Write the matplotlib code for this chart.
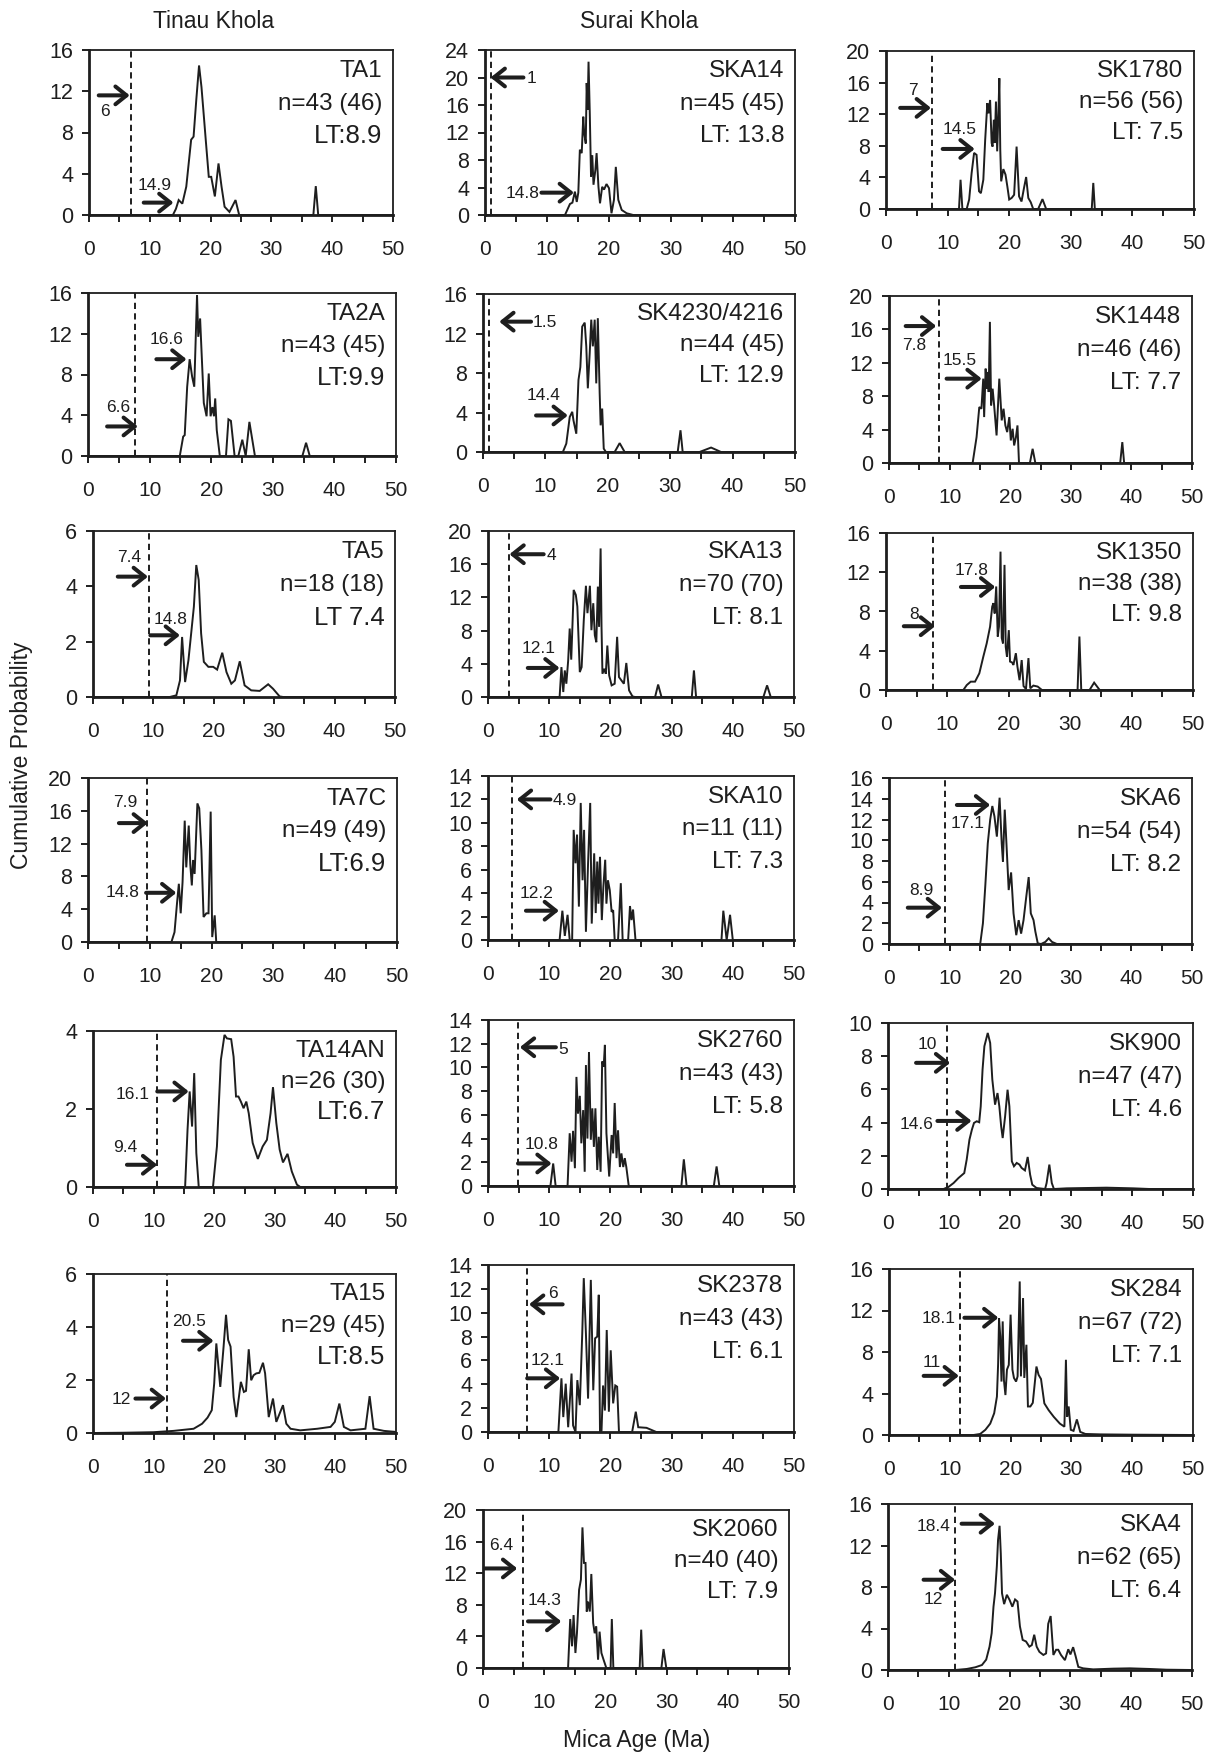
import matplotlib
matplotlib.use("Agg")
import matplotlib.pyplot as plt
from matplotlib.ticker import MultipleLocator, FuncFormatter

plt.rcParams['font.family'] = ['Liberation Sans', 'DejaVu Sans']

INK = '#1e1e1e'
W, H = 1217, 1753

# ---- probability curves: age (Ma) vs probability ----
ta1_x = [0, 13.8, 14.3, 14.75, 15.35, 16.0, 16.8, 17.2, 17.65, 18.1, 18.5, 18.9, 19.2, 19.7, 20.1, 20.7,
         21.3, 21.8, 22.3, 23.1, 24.1, 24.7, 36.9, 37.3, 37.7, 50]
ta1_y = [0, 0, 0.6, 1.45, 1.1, 2.75, 7.3, 7.6, 11.2, 14.5, 12.4, 9.5, 7.3, 3.7, 3.7, 1.8,
         5.0, 2.75, 0.8, 0.3, 1.45, 0, 0, 2.8, 0, 0]

ta2a_x = [0, 14.9, 15.45, 15.7, 16.1, 16.5, 16.9, 17.25, 17.7, 17.9, 18.2, 18.4, 18.8, 19.25, 19.6, 19.9,
          20.2, 20.45, 20.65, 20.9, 21.4, 22.4, 22.8, 23.2, 23.8, 24.4, 25.05, 25.6, 26.2, 27.1, 34.8,
          35.4, 36.0, 50]
ta2a_y = [0, 0, 1.9, 2.05, 6.8, 9.5, 7.8, 6.8, 15.8, 11.7, 13.5, 10.7, 5.2, 3.9, 8.1, 3.9,
          4.8, 3.9, 5.65, 2.55, 0, 0, 3.6, 3.45, 0, 0, 1.6, 0, 3.35, 0, 0,
          1.3, 0, 0]

ta5_x = [0, 12.7, 13.8, 14.4, 14.75, 15.25, 15.8, 16.3, 16.7, 17.1, 17.5, 17.9, 18.35, 19.1, 19.9, 20.55,
         21.4, 22.1, 22.9, 23.5, 24.3, 25.1, 26.2, 27.6, 29.0, 29.8, 30.9, 31.5, 50]
ta5_y = [0, 0, 0.06, 0.6, 2.17, 0.54, 1.33, 2.4, 3.26, 4.77, 4.23, 2.3, 1.27, 1.09, 1.09, 0.99,
         1.6, 0.9, 0.48, 0.6, 1.29, 0.42, 0.24, 0.22, 0.46, 0.3, 0.02, 0, 0]

ta7c_x = [0, 13.5, 14.0, 14.4, 14.7, 15.0, 15.3, 15.65, 15.9, 16.3, 16.55, 16.8, 17.0, 17.25, 17.7, 18.0,
          18.35, 18.7, 19.15, 19.5, 19.85, 20.1, 20.5, 20.75, 50]
ta7c_y = [0, 0, 1.2, 4.7, 7.1, 3.5, 7.3, 14.8, 9.1, 14.2, 9.5, 6.9, 10.0, 8.3, 16.9, 16.3,
          11.2, 3.05, 3.5, 3.5, 15.9, 0.6, 3.25, 0, 0]

ta14an_x = [0, 15.2, 15.6, 15.95, 16.35, 16.7, 17.05, 17.45, 19.8, 20.45, 21.1, 21.7, 22.1, 22.8, 23.2,
            23.6, 24.0, 24.4, 24.85, 25.3, 25.7, 26.35, 27.2, 28.0, 28.7, 29.3, 29.7, 30.25, 30.8,
            31.35, 32.1, 32.8, 33.65, 34.2, 50]
ta14an_y = [0, 0, 1.47, 2.45, 1.55, 2.92, 0.87, 0, 0, 1.04, 3.26, 3.9, 3.81, 3.79, 3.34,
            2.32, 2.32, 2.19, 2.02, 2.19, 1.89, 1.13, 0.72, 1.04, 1.21, 1.89, 2.56, 1.64, 0.96,
            0.63, 0.85, 0.4, 0.06, 0, 0]

ta15_x = [0, 5, 10, 13.3, 16.6, 18.0, 18.9, 19.6, 20.0, 20.35, 21.0, 21.55, 21.95, 22.3, 22.7, 23.2,
          23.65, 24.4, 24.9, 25.25, 25.7, 26.1, 26.5, 26.95, 27.45, 28.05, 28.4, 29.0, 29.7, 30.25,
          31.35, 31.9, 32.6, 34.2, 37.0, 39.2, 39.9, 40.65, 41.4, 42.5, 44.95, 45.65, 46.3, 48.0, 50]
ta15_y = [0, 0.01, 0.03, 0.08, 0.16, 0.35, 0.58, 0.86, 1.87, 3.38, 1.74, 3.26, 4.46, 3.51, 3.26, 1.36,
          0.6, 1.93, 1.55, 1.59, 3.16, 1.99, 2.18, 2.25, 2.27, 2.65, 2.25, 0.6, 1.3, 0.42,
          1.05, 0.35, 0.16, 0.1, 0.16, 0.23, 0.42, 1.11, 0.23, 0.1, 0.16, 1.39, 0.16, 0.08, 0.04]

ska14_x = [0, 12.9, 13.7, 14.1, 14.5, 14.8, 15.05, 15.3, 15.6, 15.85, 16.0, 16.25, 16.4, 16.55, 16.7,
           16.9, 17.1, 17.3, 17.5, 17.8, 18.0, 18.3, 18.55, 18.9, 19.2, 19.6, 20.0, 20.4, 20.8, 21.1,
           21.5, 22.05, 22.85, 23.9, 50]
ska14_y = [0, 0, 1.6, 1.8, 3.4, 1.9, 3.25, 9.5, 9.0, 14.3, 11.9, 10.4, 19.2, 15.3, 22.3,
           14.8, 5.6, 8.7, 4.4, 6.55, 9.0, 4.1, 1.7, 4.1, 3.7, 4.5, 3.9, 0.25, 2.2, 7.0,
           2.2, 0.73, 0.25, 0, 0]

sk4230_x = [0, 12.8, 13.35, 13.9, 14.3, 14.5, 14.95, 15.3, 15.6, 15.9, 16.3, 16.55, 16.8, 17.1, 17.35,
            17.6, 17.9, 18.15, 18.4, 18.7, 18.85, 19.1, 19.35, 19.7, 21.1, 21.9, 22.7, 31.2, 31.65,
            32.0, 34.7, 36.55, 38.15, 50]
sk4230_y = [0, 0, 0.85, 3.55, 4.07, 3.2, 1.85, 7.3, 8.6, 12.7, 13.1, 10.7, 6.45, 10.0, 13.4,
            10.7, 13.4, 6.95, 13.55, 5.9, 2.7, 4.4, 0.34, 0, 0, 0.9, 0, 0, 2.2,
            0, 0, 0.45, 0, 0]

ska13_x = [0, 11.7, 12.0, 12.3, 12.55, 12.8, 13.1, 13.35, 13.6, 13.8, 14.0, 14.35, 14.6, 15.0, 15.3,
           15.65, 16.0, 16.25, 16.65, 16.9, 17.2, 17.45, 17.7, 17.95, 18.15, 18.4, 18.55, 18.7, 19.0,
           19.25, 19.5, 19.8, 20.2, 20.7, 21.1, 21.4, 21.8, 22.2, 22.6, 23.05, 23.6, 24.0, 27.3, 27.8,
           28.35, 33.3, 33.65, 34.0, 45.0, 45.6, 46.2, 50]
ska13_y = [0, 0, 3.6, 0.6, 3.2, 1.6, 4.4, 8.25, 4.5, 8.65, 12.9, 12.3, 10.9, 3.0, 3.6,
           9.25, 13.4, 10.1, 13.4, 8.05, 11.3, 7.45, 6.6, 13.3, 8.45, 17.9, 8.45, 2.8, 3.4,
           2.8, 6.2, 2.6, 1.4, 1.6, 7.25, 2.4, 2.0, 1.6, 4.1, 0.8, 0.08, 0, 0, 1.5,
           0, 0, 3.2, 0, 0, 1.4, 0, 0]

ska10_x = [0, 11.7, 12.15, 12.55, 13.0, 13.35, 13.75, 14.0, 14.3, 14.55, 14.85, 15.15, 15.45, 15.7, 16.0,
           16.35, 16.7, 16.95, 17.35, 17.6, 17.85, 18.05, 18.3, 18.6, 18.85, 19.15, 19.35, 19.6, 19.9,
           20.2, 20.45, 20.7, 21.25, 21.7, 22.0, 22.9, 23.2, 23.45, 23.7, 24.1, 38.15, 38.45, 39.0,
           39.55, 40.0, 50]
ska10_y = [0, 0, 2.5, 0.35, 2.15, 0, 0, 9.4, 6.55, 9.0, 2.85, 11.7, 5.1, 9.4, 0.7,
           6.55, 11.7, 1.4, 7.4, 2.3, 6.7, 3.1, 7.1, 1.7, 4.55, 6.85, 3.1, 5.1, 4.25,
           2.4, 2.55, 0, 0, 4.85, 0, 0, 2.9, 1.7, 2.6, 0, 0, 2.5, 0,
           2.15, 0, 0]

sk2760_x = [0, 10.2, 10.65, 11.05, 13.0, 13.35, 13.65, 13.9, 14.2, 14.45, 14.7, 15.0, 15.25, 15.55, 15.8,
            16.0, 16.25, 16.5, 16.8, 17.05, 17.3, 17.55, 17.85, 18.1, 18.4, 18.65, 18.9, 19.1, 19.35,
            19.8, 20.2, 20.45, 20.7, 21.0, 21.25, 21.55, 21.8, 22.1, 22.35, 22.6, 23.0, 31.6, 32.0,
            32.45, 36.9, 37.35, 37.8, 50]
sk2760_y = [0, 0, 1.9, 0, 0, 4.45, 2.05, 4.65, 1.5, 9.2, 6.1, 7.6, 3.6, 6.4, 1.2,
            10.2, 4.0, 11.3, 3.9, 6.55, 3.3, 6.55, 1.35, 4.15, 1.2, 10.5, 10.05, 11.9, 4.45,
            0.8, 4.3, 2.75, 7.0, 2.35, 4.7, 1.6, 2.75, 1.6, 2.35, 1.6, 0, 0, 2.25,
            0, 0, 1.65, 0, 0]

sk2378_x = [0, 11.5, 12.0, 12.3, 12.7, 13.1, 13.65, 13.9, 14.3, 14.6, 15.0, 15.4, 15.65, 16.0, 16.35,
            16.8, 17.2, 17.5, 17.85, 18.1, 18.3, 18.55, 18.8, 19.1, 19.4, 19.75, 20.05, 20.45, 20.8,
            21.1, 21.4, 23.55, 24.15, 24.55, 25.9, 27.5, 50]
sk2378_y = [0, 0, 4.5, 1.25, 4.05, 0.4, 4.9, 0.55, 0, 4.35, 2.25, 8.25, 12.9, 8.25, 2.8,
            12.75, 3.5, 7.85, 8.0, 11.5, 0, 0.1, 3.9, 1.8, 8.55, 1.7, 6.85, 2.4, 3.9,
            3.8, 0, 0, 1.7, 0.4, 0.35, 0, 0]

sk2060_x = [0, 13.9, 14.25, 14.55, 14.8, 15.1, 15.35, 15.7, 16.0, 16.25, 16.5, 16.75, 16.95, 17.15, 17.45,
            17.7, 18.0, 18.25, 18.5, 18.8, 19.05, 19.35, 19.7, 20.15, 20.85, 21.05, 21.3, 25.6, 25.85,
            26.1, 29.15, 29.5, 29.95, 50]
sk2060_y = [0, 0, 6.2, 2.75, 6.7, 1.9, 4.4, 9.9, 11.2, 17.8, 13.3, 13.3, 7.15, 8.4, 7.15,
            11.9, 5.7, 4.4, 5.25, 1.05, 4.6, 1.9, 1.05, 0, 0, 6.2, 0, 0, 4.85,
            0, 0, 2.4, 0, 0]

sk1780_x = [0, 11.85, 12.1, 12.4, 13.1, 13.5, 13.9, 14.3, 14.7, 15.1, 15.4, 15.8, 16.1, 16.45, 16.65,
            16.9, 17.15, 17.3, 17.5, 17.65, 17.85, 18.05, 18.25, 18.4, 18.55, 18.7, 19.05, 19.4, 19.7,
            20.0, 20.4, 20.8, 21.2, 21.6, 22.0, 22.4, 22.75, 23.1, 23.5, 23.9, 24.7, 25.4, 26.0, 33.4,
            33.65, 33.9, 50]
sk1780_y = [0, 0, 3.7, 0, 0, 1.2, 4.55, 7.1, 6.85, 2.25, 2.0, 3.7, 8.75, 13.4, 12.1,
            13.8, 8.35, 7.9, 11.3, 8.35, 13.6, 7.3, 12.1, 16.55, 7.5, 3.5, 5.05, 4.35, 2.85,
            1.2, 1.4, 1.8, 7.9, 1.6, 0.95, 2.65, 4.05, 1.4, 0.85, 0, 0, 1.25, 0, 0,
            3.3, 0, 0]

sk1448_x = [0, 13.8, 14.45, 14.9, 15.25, 15.55, 15.7, 15.95, 16.1, 16.25, 16.45, 16.65, 16.85, 17.1, 17.35,
            17.75, 18.2, 18.6, 18.9, 19.2, 19.5, 19.85, 20.1, 20.4, 20.65, 20.95, 21.2, 21.45, 23.25,
            23.7, 24.15, 38.15, 38.5, 38.8, 50]
sk1448_y = [0, 0, 3.1, 6.7, 6.5, 10.1, 5.5, 11.3, 8.9, 10.9, 8.5, 16.9, 6.9, 8.9, 6.9,
            3.3, 10.1, 5.1, 6.5, 4.5, 3.7, 5.5, 2.7, 4.1, 2.1, 3.1, 4.5, 0, 0,
            1.7, 0, 0, 2.5, 0, 0]

sk1350_x = [0, 12.6, 13.15, 13.8, 14.5, 15.2, 15.85, 16.4, 16.95, 17.3, 17.5, 17.7, 17.95, 18.2, 18.4,
            18.65, 18.85, 19.05, 19.3, 19.5, 19.7, 20.0, 20.2, 20.55, 20.75, 21.15, 21.4, 21.75, 22.1,
            22.4, 22.8, 23.2, 23.5, 24.0, 24.7, 25.4, 31.2, 31.5, 31.8, 33.15, 33.9, 34.8, 50]
sk1350_y = [0, 0, 0.5, 0.85, 0.85, 1.7, 3.4, 4.75, 6.45, 8.5, 8.85, 7.8, 10.55, 5.45, 6.45,
            14.1, 5.3, 4.75, 12.75, 4.4, 3.4, 6.1, 2.9, 2.8, 2.55, 3.75, 2.4, 1.0, 3.05,
            0.4, 0.1, 3.25, 0.17, 0.45, 0.35, 0, 0, 5.45, 0, 0, 0.75, 0, 0]

ska6_x = [0, 15.05, 15.5, 15.9, 16.3, 16.7, 17.05, 17.4, 17.8, 18.25, 18.6, 18.8, 19.1, 19.35, 19.75,
          20.15, 20.55, 21.0, 21.4, 21.8, 22.2, 22.65, 23.05, 23.4, 23.85, 24.15, 24.55, 25.1, 25.8,
          26.35, 26.9, 27.7, 50]
ska6_y = [0, 0, 2.0, 5.7, 9.7, 12.0, 13.3, 12.3, 10.35, 14.1, 9.7, 7.95, 12.95, 10.05, 5.2,
          6.9, 2.95, 0.85, 2.3, 1.0, 2.3, 4.55, 6.45, 2.95, 2.3, 1.2, 0.06, 0, 0.2,
          0.55, 0.2, 0, 0]

sk900_x = [0, 9.1, 9.9, 10.75, 11.55, 12.5, 12.9, 13.35, 13.75, 14.1, 14.55, 14.95, 15.2, 15.5, 15.8,
           16.35, 16.75, 17.1, 17.55, 17.95, 18.25, 18.55, 18.8, 19.2, 19.6, 19.9, 20.3, 20.65, 21.1,
           21.55, 21.9, 22.45, 22.9, 23.3, 23.65, 24.35, 25.75, 26.0, 26.45, 26.85, 27.2, 29.3, 35.8,
           40.2, 42.9, 50]
sk900_y = [0, 0, 0.12, 0.36, 0.66, 0.96, 1.77, 2.97, 3.57, 3.98, 4.08, 4.02, 4.98, 7.19, 8.6,
           9.4, 8.8, 6.6, 5.08, 5.78, 4.98, 3.78, 3.07, 4.38, 5.98, 4.98, 1.67, 1.37, 1.57,
           1.47, 1.27, 1.12, 1.93, 0.86, 0.26, 0.06, 0, 0.36, 1.47, 0.36, 0, 0.04, 0.08,
           0.04, 0, 0]

sk284_x = [0, 13.9, 15.0, 15.85, 16.65, 17.3, 17.75, 17.95, 18.1, 18.3, 18.5, 18.7, 18.9, 19.15, 19.4,
           19.7, 20.0, 20.3, 20.55, 20.9, 21.15, 21.5, 21.7, 22.05, 22.25, 22.6, 22.85, 23.25, 23.65,
           24.25, 24.6, 25.0, 25.55, 26.25, 27.1, 28.1, 28.85, 29.1, 29.3, 29.55, 29.9, 30.35, 30.9,
           31.45, 32.3, 34.75, 40.2, 50]
sk284_y = [0, 0, 0.1, 0.5, 1.1, 2.1, 3.7, 6.9, 11.25, 9.5, 5.15, 10.95, 5.3, 3.85, 6.3,
           6.75, 11.6, 6.3, 5.5, 5.15, 5.65, 14.8, 5.65, 13.2, 5.5, 8.7, 2.75, 2.75, 3.1,
           6.6, 5.8, 5.4, 3.05, 2.4, 1.75, 1.1, 0.8, 7.25, 1.75, 2.75, 0.5, 0.4, 1.5,
           0.3, 0.1, 0.06, 0.03, 0]

ska4_x = [0, 11.05, 12.95, 14.35, 15.45, 16.15, 16.7, 17.05, 17.35, 17.6, 17.9, 18.1, 18.35, 18.55, 18.75,
          19.1, 19.55, 20.0, 20.45, 20.9, 21.3, 21.7, 22.15, 22.7, 23.25, 23.65, 24.05, 24.45, 24.9,
          25.55, 26.0, 26.35, 26.75, 27.2, 27.65, 28.0, 28.45, 29.1, 29.65, 30.0, 30.45, 30.85, 31.3,
          32.1, 33.75, 37.05, 39.8, 43.05, 45.8, 50]
ska4_y = [0, 0, 0.1, 0.26, 0.48, 1.0, 2.25, 3.55, 6.1, 7.4, 10.0, 12.55, 13.9, 11.25, 7.4,
          6.35, 7.25, 6.75, 6.1, 6.8, 6.6, 4.2, 2.9, 2.75, 2.25, 2.4, 3.4, 2.25, 1.75,
          1.45, 1.6, 4.45, 5.2, 1.45, 1.95, 1.95, 1.45, 0.95, 2.0, 1.5, 2.2, 1.35, 0.3,
          0.16, 0.06, 0.13, 0.16, 0.1, 0.03, 0]

# ---- panel labels and scales ----
samples = ['TA1', 'TA2A', 'TA5', 'TA7C', 'TA14AN', 'TA15',
           'SKA14', 'SK4230/4216', 'SKA13', 'SKA10', 'SK2760', 'SK2378', 'SK2060',
           'SK1780', 'SK1448', 'SK1350', 'SKA6', 'SK900', 'SK284', 'SKA4']
n_labels = ['n=43 (46)', 'n=43 (45)', 'n=18 (18)', 'n=49 (49)', 'n=26 (30)', 'n=29 (45)',
            'n=45 (45)', 'n=44 (45)', 'n=70 (70)', 'n=11 (11)', 'n=43 (43)', 'n=43 (43)', 'n=40 (40)',
            'n=56 (56)', 'n=46 (46)', 'n=38 (38)', 'n=54 (54)', 'n=47 (47)', 'n=67 (72)', 'n=62 (65)']
lt_labels = ['LT:8.9', 'LT:9.9', 'LT 7.4', 'LT:6.9', 'LT:6.7', 'LT:8.5',
             'LT: 13.8', 'LT: 12.9', 'LT: 8.1', 'LT: 7.3', 'LT: 5.8', 'LT: 6.1', 'LT: 7.9',
             'LT: 7.5', 'LT: 7.7', 'LT: 9.8', 'LT: 8.2', 'LT: 4.6', 'LT: 7.1', 'LT: 6.4']
y_max = [16, 16, 6, 20, 4, 6, 24, 16, 20, 14, 14, 14, 20, 20, 20, 16, 16, 10, 16, 16]
y_step = [4, 4, 2, 4, 2, 2, 4, 4, 4, 2, 2, 2, 4, 4, 4, 4, 2, 2, 4, 4]
cutoff = [6.9, 7.7, 9.2, 9.6, 10.6, 12.2, 0.9, 1.0, 3.4, 3.9, 4.9, 6.3, 6.5,
          7.5, 8.3, 7.7, 9.2, 9.7, 11.7, 11.0]
curves = [(ta1_x, ta1_y), (ta2a_x, ta2a_y), (ta5_x, ta5_y), (ta7c_x, ta7c_y), (ta14an_x, ta14an_y),
          (ta15_x, ta15_y), (ska14_x, ska14_y), (sk4230_x, sk4230_y), (ska13_x, ska13_y),
          (ska10_x, ska10_y), (sk2760_x, sk2760_y), (sk2378_x, sk2378_y), (sk2060_x, sk2060_y),
          (sk1780_x, sk1780_y), (sk1448_x, sk1448_y), (sk1350_x, sk1350_y), (ska6_x, ska6_y),
          (sk900_x, sk900_y), (sk284_x, sk284_y), (ska4_x, ska4_y)]

# ---- layout: axes boxes in pixels (left, top, right, bottom) ----
boxes = [(89, 50, 393, 215), (88, 293, 396, 456), (93, 531, 395, 697), (88, 778, 397, 942),
         (93, 1031, 396, 1187), (93, 1274, 396, 1433),
         (485, 50, 795, 215), (483, 294, 795, 452), (488, 531, 794, 697), (488, 776, 794, 940),
         (488, 1020, 794, 1186), (488, 1265, 794, 1432), (483, 1510, 789, 1668),
         (886, 51, 1194, 209), (889, 296, 1192, 463), (886, 533, 1193, 690), (889, 778, 1192, 944),
         (888, 1023, 1193, 1189), (889, 1269, 1193, 1435), (888, 1504, 1192, 1670)]

# arrows: tail x, head x, y, label, label x, label y, label alignment
arrows = [
    [(1.6, 6.7, 11.6, '6', 2.7, 10.0, 'center'), (9.0, 13.9, 1.2, '14.9', 10.8, 2.9, 'center')],
    [(3.1, 8.1, 2.9, '6.6', 4.9, 4.8, 'center'), (11.1, 16.0, 9.5, '16.6', 12.7, 11.4, 'center')],
    [(4.1, 9.1, 4.35, '7.4', 6.0, 5.04, 'center'), (9.5, 14.4, 2.23, '14.8', 12.8, 2.8, 'center')],
    [(5.0, 9.7, 14.5, '7.9', 6.1, 17.0, 'center'), (9.4, 14.3, 6.0, '14.8', 8.4, 6.0, 'right')],
    [(10.6, 15.8, 2.45, '16.1', 9.35, 2.36, 'right'), (5.6, 10.6, 0.57, '9.4', 5.3, 1.02, 'center')],
    [(14.85, 19.9, 3.48, '20.5', 15.9, 4.2, 'center'), (7.0, 12.05, 1.3, '12', 6.2, 1.26, 'right')],
    [(6.2, 0.9, 20.0, '1', 6.7, 19.9, 'left'), (9.1, 14.35, 3.25, '14.8', 8.8, 3.2, 'right')],
    [(7.7, 2.6, 13.2, '1.5', 7.9, 13.1, 'left'), (8.5, 13.6, 3.7, '14.4', 9.7, 5.7, 'center')],
    [(9.1, 3.5, 17.2, '4', 9.6, 17.0, 'left'), (6.5, 11.7, 3.5, '12.1', 8.2, 5.8, 'center')],
    [(10.2, 4.7, 12.0, '4.9', 10.5, 11.9, 'left'), (6.2, 11.6, 2.5, '12.2', 7.9, 4.0, 'center')],
    [(11.1, 5.2, 11.7, '5', 11.5, 11.5, 'left'), (4.9, 10.4, 1.9, '10.8', 8.7, 3.5, 'center')],
    [(12.2, 6.7, 10.7, '6', 10.6, 11.6, 'center'), (6.4, 11.8, 4.5, '12.1', 9.8, 6.0, 'center')],
    [(0.3, 5.6, 12.6, '6.4', 3.0, 15.5, 'center'), (7.35, 12.8, 5.9, '14.3', 10.1, 8.6, 'center')],
    [(2.3, 7.3, 12.8, '7', 4.4, 15.0, 'center'), (9.2, 14.4, 7.6, '14.5', 11.9, 10.1, 'center')],
    [(2.75, 7.8, 16.4, '7.8', 4.2, 14.1, 'center'), (9.5, 15.3, 10.1, '15.5', 11.7, 12.3, 'center')],
    [(2.9, 8.0, 6.5, '8', 4.6, 7.7, 'center'), (12.2, 17.8, 10.5, '17.8', 14.0, 12.2, 'center')],
    [(11.2, 16.7, 13.4, '17.1', 12.9, 11.65, 'center'), (3.1, 8.75, 3.5, '8.9', 5.3, 5.15, 'center')],
    [(4.6, 10.2, 7.6, '10', 6.5, 8.7, 'center'), (8.1, 13.7, 4.1, '14.6', 7.4, 3.9, 'right')],
    [(12.4, 18.0, 11.3, '18.1', 10.9, 11.25, 'right'), (5.7, 11.5, 5.7, '11', 7.1, 7.0, 'center')],
    [(12.1, 17.6, 14.1, '18.4', 10.2, 13.8, 'right'), (5.85, 11.05, 8.7, '12', 7.4, 6.8, 'center')],
]


def x_label(v, pos):
    return f"{int(v)}" if int(round(v)) % 10 == 0 else ""


fig = plt.figure(figsize=(W / 100, H / 100), dpi=100)

for i, name in enumerate(samples):
    l, t, r, b = boxes[i]
    ax = fig.add_axes([l / W, 1 - b / H, (r - l) / W, (b - t) / H])
    xs, ys = curves[i]
    ax.plot(xs, ys, color=INK, lw=1.4, solid_joinstyle='miter')
    ax.axvline(cutoff[i], color=INK, lw=1.4, ls=(0, (3.2, 2.2)))

    for tail, head, yy, lab, lx, ly, ha in arrows[i]:
        ax.annotate('', xy=(head, yy), xytext=(tail, yy),
                    arrowprops=dict(arrowstyle='->,head_length=0.4,head_width=0.32',
                                    lw=2.9, color=INK, shrinkA=0, shrinkB=0,
                                    mutation_scale=20))
        ax.text(lx, ly, lab, ha=ha, va='center', fontsize=12.5, color=INK)

    big = 18.5 if i < 6 else 17.5
    ax.text(0.965, 0.873, name, transform=ax.transAxes, ha='right', va='center',
            fontsize=17.5, color=INK)
    ax.text(0.965, 0.675, n_labels[i], transform=ax.transAxes, ha='right', va='center',
            fontsize=17.5, color=INK)
    ax.text(0.965, 0.478, lt_labels[i], transform=ax.transAxes, ha='right', va='center',
            fontsize=big, color=INK)

    ax.set_xlim(0, 50)
    ax.set_ylim(0, y_max[i])
    ax.xaxis.set_major_locator(MultipleLocator(5))
    ax.xaxis.set_major_formatter(FuncFormatter(x_label))
    ax.set_yticks(list(range(0, y_max[i] + 1, y_step[i])))
    ax.tick_params(axis='both', direction='out', length=5, width=1.4, colors=INK)
    ax.tick_params(axis='x', labelsize=15, pad=13)
    ax.tick_params(axis='y', labelsize=15.5, pad=6.5)
    for side in ['bottom', 'left']:
        ax.spines[side].set_linewidth(2.0)
    for side in ['top', 'right']:
        ax.spines[side].set_linewidth(1.3)
    for s in ax.spines.values():
        s.set_color(INK)

fig.text(214 / W, 1 - 22 / H, 'Tinau Khola', ha='center', va='center', fontsize=16.5, color=INK)
fig.text(639 / W, 1 - 22 / H, 'Surai Khola', ha='center', va='center', fontsize=16.5, color=INK)
fig.text(22 / W, 1 - 755 / H, 'Cumulative Probability', rotation=90, ha='center', va='center',
         fontsize=16.5, color=INK)
fig.text(637 / W, 1 - 1740 / H, 'Mica Age (Ma)', ha='center', va='center', fontsize=16.5, color=INK)

fig.savefig('out.png', dpi=100)
